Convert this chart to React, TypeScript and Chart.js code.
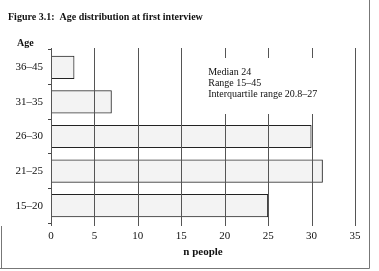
import React, { useEffect, useRef } from "react";
import { Chart, registerables } from "chart.js";

Chart.register(...registerables);

const categories = ["36–45", "31–35", "26–30", "21–25", "15–20"];
const counts = [2.7, 7, 30, 31.3, 25];
const xTicks = [0, 5, 10, 15, 20, 25, 30, 35];
const titleText = "Figure 3.1:  Age distribution at first interview";
const yAxisTitle = "Age";
const xAxisTitle = "n people";
const noteLines = ["Median 24", "Range 15–45", "Interquartile range 20.8–27"];

const SERIF = "'Liberation Serif', 'DejaVu Serif', serif";

const decorPlugin = {
  id: "decor",
  afterDatasetsDraw(chart: any) {
    const { ctx, chartArea } = chart;
    const xs = chart.scales.x;
    ctx.save();
    ctx.strokeStyle = "#555";
    ctx.lineWidth = 1;
    ctx.beginPath();
    xTicks.forEach((v) => {
      const px = Math.round(xs.getPixelForValue(v)) + 0.5;
      ctx.moveTo(px, chartArea.top - 2);
      ctx.lineTo(px, chartArea.bottom + 3);
    });
    ctx.stroke();
    ctx.restore();
  },
  afterDraw(chart: any) {
    const { ctx } = chart;
    const xs = chart.scales.x;
    ctx.save();
    ctx.fillStyle = "#ffffff";
    const x0 = xs.getPixelForValue(17.8);
    const x1 = xs.getPixelForValue(33);
    ctx.fillRect(x0, 58, x1 - x0, 56);
    ctx.fillStyle = "#111";
    ctx.textBaseline = "middle";
    ctx.textAlign = "left";
    ctx.font = `bold 10px ${SERIF}`;
    ctx.fillText(titleText, 8, 17);
    ctx.fillText(yAxisTitle, 17, 43);
    ctx.textAlign = "center";
    ctx.font = `bold 11px ${SERIF}`;
    ctx.fillText(xAxisTitle, (xs.left + xs.right) / 2, 252);
    ctx.textAlign = "left";
    ctx.font = `10px ${SERIF}`;
    const tx = xs.getPixelForValue(18.1);
    noteLines.forEach((l, i) => ctx.fillText(l, tx, 72 + i * 11.2));
    // frame
    ctx.strokeStyle = "#777";
    ctx.lineWidth = 1;
    ctx.beginPath();
    ctx.moveTo(369.5, 0);
    ctx.lineTo(369.5, 268.5);
    ctx.lineTo(0, 268.5);
    ctx.moveTo(1.5, 226);
    ctx.lineTo(1.5, 268.5);
    ctx.stroke();
    ctx.restore();
  },
};

export default function App() {
  const ref = useRef<HTMLCanvasElement>(null);
  useEffect(() => {
    const chart = new Chart(ref.current!, {
      type: "bar",
      data: {
        labels: categories,
        datasets: [
          {
            data: counts,
            backgroundColor: "rgba(200,200,200,0.22)",
            borderColor: "#222",
            borderWidth: 1,
            borderSkipped: false,
            barPercentage: 0.67,
            categoryPercentage: 1,
          },
        ],
      },
      options: {
        indexAxis: "y",
        animation: false,
        responsive: false,
        maintainAspectRatio: false,
        layout: { padding: { left: 0, right: 24, top: 50, bottom: 0 } },
        plugins: { legend: { display: false }, tooltip: { enabled: false }, title: { display: false } },
        scales: {
          x: {
            min: 0,
            max: 35,
            afterBuildTicks: (s: any) => {
              s.ticks = xTicks.map((v) => ({ value: v }));
            },
            afterFit: (s: any) => {
              s.height = 48;
            },
            grid: { display: false, drawTicks: false, tickLength: 3 },
            border: { display: false },
            ticks: { color: "#111", font: { family: SERIF, size: 11 }, padding: 7, maxRotation: 0 },
          },
          y: {
            offset: true,
            afterFit: (s: any) => {
              s.width = 51;
            },
            grid: { offset: true, drawOnChartArea: false, color: "#444", tickLength: 3 },
            border: { display: false },
            ticks: { color: "#111", font: { family: SERIF, size: 11 }, padding: 5 },
          },
        },
      },
      plugins: [decorPlugin],
    } as any);
    return () => chart.destroy();
  }, []);
  return (
    <div style={{ position: "fixed", left: 0, top: 0, width: 379, height: 271, background: "#fff" }}>
      <canvas ref={ref} width={379} height={271} style={{ width: 379, height: 271 }} />
    </div>
  );
}
